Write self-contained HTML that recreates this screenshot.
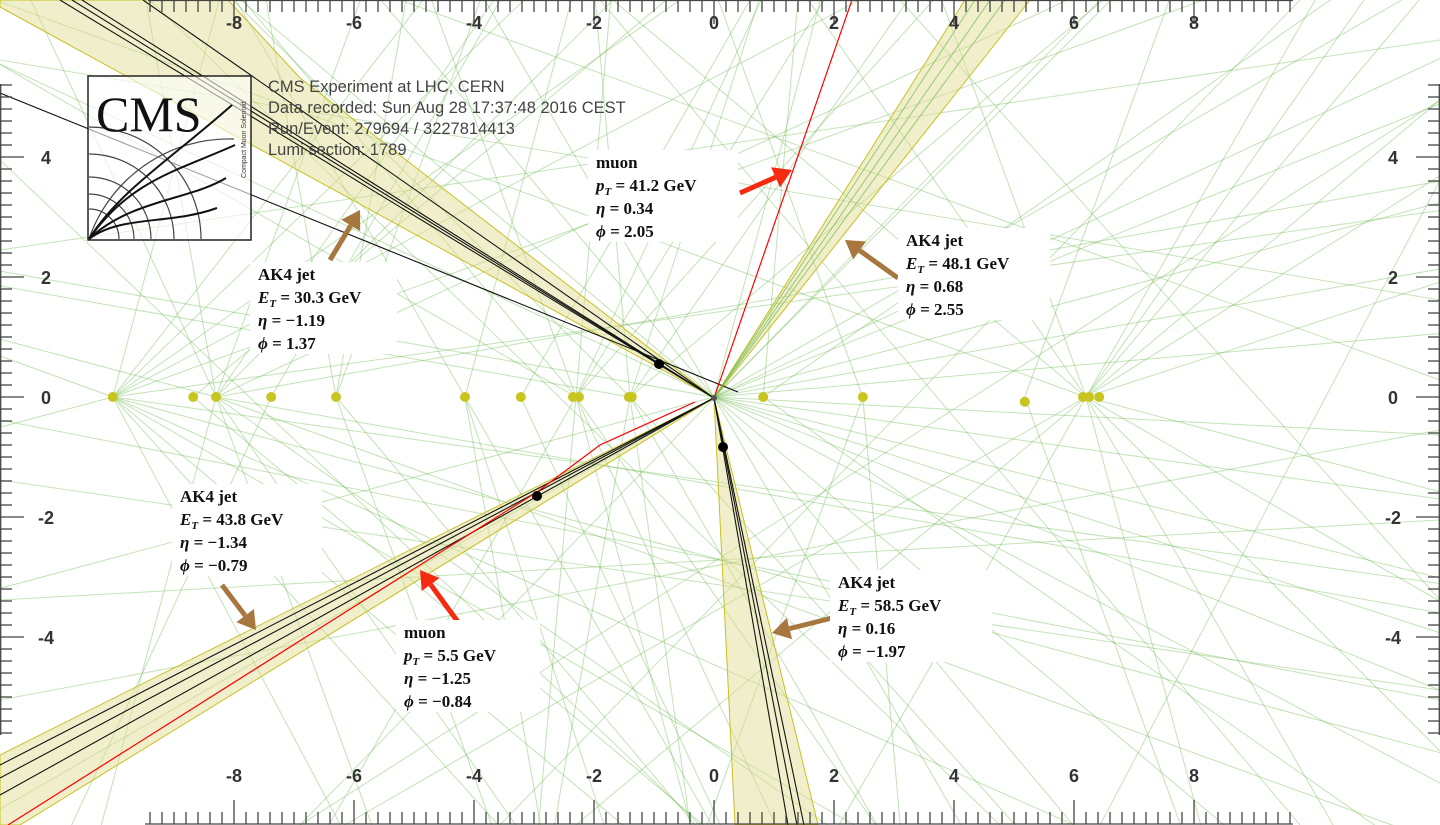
<!DOCTYPE html>
<html><head><meta charset="utf-8"><style>
html,body{margin:0;padding:0;background:#fff;width:1440px;height:825px;overflow:hidden}
svg{display:block;overflow:hidden}
.lbl{font-family:"Liberation Serif",serif;font-weight:bold;font-size:17px;fill:#111}
.tick{font-family:"Liberation Sans",sans-serif;font-weight:bold;font-size:18px;fill:#333}
.info{font-family:"Liberation Sans",sans-serif;font-size:16.5px;fill:#444}
</style></head><body>
<svg id="c" width="1440" height="825" viewBox="0 0 1440 825">
<g id="tracks"></g>
<g id="jets"></g>
<g id="verts"></g>
<g id="axes"></g>
<g id="ann"></g>
</svg>
<script>
const X0=714, Y0=397, S=60;
function sx(v){return X0+v*S;}
function sy(v){return Y0-v*S;}
const NS='http://www.w3.org/2000/svg';
function mk(tag,attrs,parent){const e=document.createElementNS(NS,tag);for(const k in attrs)e.setAttribute(k,attrs[k]);parent.appendChild(e);return e;}

const vertexX=[-10.02,-8.68,-8.3,-7.38,-6.3,-4.15,-3.22,-2.35,-2.25,-1.42,-1.37,0.82,2.48,5.18,6.15,6.25,6.42];
const vertexY=[0,0,0,0,0,0,0,0,0,0,0,0,0,-0.08,0,0,0];
const trackOriginX=[-10.02,-10.02,-10.02,-10.02,-10.02,-10.02,-10.02,-10.02,-10.02,-10.02,-8.3,-8.3,-8.3,-8.3,-8.3,-8.3,-8.3,-8.3,-2.3,-2.3,-2.3,-2.3,-2.3,-2.3,-2.3,-1.4,-1.4,-1.4,-1.4,-1.4,-1.4,0,0,0,0,0,0,0,0,0,0,0,0,0,0,6.2,6.2,6.2,6.2,6.2,6.2,6.2,6.2,6.2,6.2,-6.3,-6.3,-6.3,-4.15,-4.15,-4.15,0.82,0.82,2.48,2.48,-7.38,-7.38,
 -10.02,-10.02,-10.02,-10.02,-10.02,-10.02,-8.3,-8.3,-8.3,-8.3,-8.3,-8.3,-2.3,-2.3,-2.3,-2.3,-2.3,-1.4,-1.4,-1.4,-1.4,0,0,0,0,0,0,0,0,0,0,6.2,6.2,6.2,6.2,6.2,6.2,6.2,6.2,-6.3,-6.3,-4.15,-4.15,-3.22,-3.22,0.82,2.48,5.18,5.18,-8.68,-8.68];
const trackAngle=[20,35,52,75,-15,-30,-48,-62,160,195,10,70,100,115,-20,-70,-105,165,65,85,110,-75,-95,-120,150,40,72,95,-60,-100,170,5,15,-8,-14,-22,30,-40,120,140,155,-150,-165,75,25,40,60,110,125,160,-30,-60,-120,-150,55,-50,100,80,-80,120,-60,35,-35,110,-110,60,-115,
 8,28,44,-8,-24,-40,25,45,55,-10,-35,-55,48,58,-55,-65,130,55,-48,-82,135,10,22,-3,-18,-28,45,-50,-60,130,170,18,32,50,-15,-45,-75,140,-140,70,-70,75,-72,60,-65,85,-85,70,-70,40,-40];
const jetETs=['30.3','48.1','43.8','58.5'];
const jetEta=['−1.19','0.68','−1.34','0.16'];
const jetPhi=['1.37','2.55','−0.79','−1.97'];

const tg=document.getElementById('tracks');
for(let i=0;i<trackOriginX.length;i++){
  const x=sx(trackOriginX[i]),y=sy(0),a=trackAngle[i]*Math.PI/180,L=2200;
  const l=mk('line',{x1:x,y1:y,x2:x+Math.cos(a)*L,y2:y-Math.sin(a)*L,stroke:'rgba(110,185,80,0.42)','stroke-width':1},tg);
  
  
}
const crossA=[[0,60,1440,300],[0,250,1440,40],[300,825,1100,0],[500,825,1300,0],[0,600,1440,520],[0,700,1440,430],[150,0,1000,825],[900,0,1440,600],[1100,825,1440,180],[0,420,1440,700],[600,0,1300,825],[0,160,700,825],[1440,100,300,825],[1440,380,400,0],[1440,690,0,480]];
for(const c of crossA){const l=mk('line',{x1:c[0],y1:c[1],x2:c[2],y2:c[3],stroke:'rgba(110,185,80,0.4)','stroke-width':1},tg);
  
  }

const jg=document.getElementById('jets');
const jetPolys=[
 [[714,398],[0,7],[0,0],[228,0],[300,78]],
 [[714,398],[965,0],[1030,0]],
 [[714,398],[0,755],[0,825],[20,825]],
 [[714,398],[735,825],[818,825]]
];
jetPolys.forEach((p,i)=>{const e=mk('polygon',{points:p.map(q=>q.join(',')).join(' '),fill:'rgba(225,220,140,0.45)',stroke:'#c8c020','stroke-width':1},jg);
  
  });
const blk=[[714,398,60,0],[714,398,72,0],[714,398,82,0],[714,398,143,0],[0,93,738,392],
 [714,398,0,765],[714,398,0,778],[714,398,0,795],
 [714,398,788,825],[714,398,797,825],[714,398,804,825]];
blk.forEach(b=>{const e=mk('line',{x1:b[0],y1:b[1],x2:b[2],y2:b[3],stroke:'#111','stroke-width':1.1},jg);
  
  });
[[714,398,975,0],[714,398,990,0],[714,398,1005,0]].forEach(b=>{const e=mk('line',{x1:b[0],y1:b[1],x2:b[2],y2:b[3],stroke:'rgba(110,185,80,0.7)','stroke-width':1},jg);
  
  });
let m=mk('line',{x1:714,y1:398,x2:852,y2:0,stroke:'#f00','stroke-width':1.2},jg);


m=mk('polyline',{points:'695,402 600,445 537,492 420,565 8,825',fill:'none',stroke:'#f00','stroke-width':1.2},jg);



const vg=document.getElementById('verts');
for(let i=0;i<vertexX.length;i++){const c=mk('circle',{cx:sx(vertexX[i]),cy:sy(vertexY[i]),r:5,fill:'#c9c520'},vg);
  
  }
mk('circle',{cx:714,cy:398,r:3,fill:'#555'},vg);
[[659,364],[537,496],[723,447]].forEach(d=>{const c=mk('circle',{cx:d[0],cy:d[1],r:5,fill:'#000'},vg);
  
  });

const ag=document.getElementById('axes');
const tickLabels=[-8,-6,-4,-2,0,2,4,6,8];
const yTickLabels=[4,2,0,-2,-4];
function tline(x1,y1,x2,y2){mk('line',{x1,y1,x2,y2,stroke:'#444','stroke-width':1.3},ag);}
tline(148,0.5,1293,0.5);tline(145,824,1293,824);tline(0.7,84,0.7,735);tline(1439.3,84,1439.3,735);
for(let k=-47;k<=48;k++){const v=k*0.2,x=sx(v);if(x<148||x>1293)continue;const maj=Math.abs(v-Math.round(v))<1e-6&&Math.round(v)%2===0;
  tline(x,0,x,maj?24:12);tline(x,824,x,maj?800:812);}
for(let k=-28;k<=26;k++){const v=k*0.2,y=sy(v);if(y<84||y>735)continue;const maj=Math.abs(v-Math.round(v))<1e-6&&Math.round(v)%2===0;
  tline(0,y,maj?24:12,y);tline(1440,y,maj?1416:1428,y);}
tickLabels.forEach(v=>{
  let t=mk('text',{x:sx(v),y:29,'text-anchor':'middle',class:'tick'},ag);t.textContent=v;
  
  t=mk('text',{x:sx(v),y:782,'text-anchor':'middle',class:'tick'},ag);t.textContent=v;
  });
yTickLabels.forEach(v=>{
  let t=mk('text',{x:46,y:sy(v)+7,'text-anchor':'middle',class:'tick'},ag);t.textContent=v;
  
  t=mk('text',{x:1393,y:sy(v)+7,'text-anchor':'middle',class:'tick'},ag);t.textContent=v;
  });

const an=document.getElementById('ann');
function arrow(x1,y1,x2,y2,col){const a=Math.atan2(y2-y1,x2-x1),h=18,w=11;
  const bx=x2-Math.cos(a)*h,by=y2-Math.sin(a)*h;
  mk('line',{x1,y1,x2:bx,y2:by,stroke:col,'stroke-width':5},an);
  const p=mk('polygon',{points:`${x2},${y2} ${bx+Math.sin(a)*w},${by-Math.cos(a)*w} ${bx-Math.sin(a)*w},${by+Math.cos(a)*w}`,fill:col},an);
  }
const brown='#a8773f';
arrow(330,260,360,210,brown);arrow(898,278,845,240,brown);arrow(222,585,256,630,brown);arrow(836,617,772,633,brown);
arrow(740,193,792,170,'#f52a10');arrow(458,622,420,570,'#f52a10');
function box(x,y,w,h,lines,name){const g=mk('g',{},an);
  mk('rect',{x,y,width:w,height:h,fill:'#fff'},g);
  lines.forEach((s,i)=>{const t=mk('text',{x:x+8,y:y+18+i*23,class:'lbl'},g);t.innerHTML=s;});}
function jl(i){return ['AK4 jet',`<tspan font-style="italic">E</tspan><tspan font-style="italic" font-size="11" dy="4">T</tspan><tspan dy="-4"> = ${jetETs[i]} GeV</tspan>`,`<tspan font-style="italic">η</tspan> = ${jetEta[i]}`,`<tspan font-style="italic">ϕ</tspan> = ${jetPhi[i]}`];}
box(250,262,147,92,jl(0),'jet-label-1');
box(898,228,152,92,jl(1),'jet-label-2');
box(172,484,150,92,jl(2),'jet-label-3');
box(830,570,162,92,jl(3),'jet-label-4');
box(588,150,150,92,['muon','<tspan font-style="italic">p</tspan><tspan font-style="italic" font-size="11" dy="4">T</tspan><tspan dy="-4"> = 41.2 GeV</tspan>','<tspan font-style="italic">η</tspan> = 0.34','<tspan font-style="italic">ϕ</tspan> = 2.05'],'muon-label-1');
box(396,620,144,92,['muon','<tspan font-style="italic">p</tspan><tspan font-style="italic" font-size="11" dy="4">T</tspan><tspan dy="-4"> = 5.5 GeV</tspan>','<tspan font-style="italic">η</tspan> = −1.25','<tspan font-style="italic">ϕ</tspan> = −0.84'],'muon-label-2');

['CMS Experiment at LHC, CERN','Data recorded: Sun Aug 28 17:37:48 2016 CEST','Run/Event: 279694 / 3227814413','Lumi section: 1789'].forEach((s,i)=>{
  const t=mk('text',{x:268,y:92+i*21,class:'info'},an);t.textContent=s;
  });

const lg=mk('g',{},an);
mk('rect',{x:88,y:76,width:163,height:164,fill:'rgba(255,255,255,0.6)',stroke:'#222','stroke-width':1.5},lg);
[30,45,62,85,112].forEach(r=>mk('path',{d:`M${89+r},239 A${r},${r} 0 0 0 89,${239-r}`,fill:'none',stroke:'#444','stroke-width':1.2},lg));
mk('path',{d:'M89,239 A148,148 0 0 1 234,139',fill:'none',stroke:'#444','stroke-width':1.2},lg);
['M89,239 C120,190 170,160 232,105','M89,239 C130,180 180,170 235,145','M89,239 C130,200 190,200 226,178','M89,239 C120,215 170,225 217,208'].forEach(d=>mk('path',{d,fill:'none',stroke:'#111','stroke-width':2},lg));
let ct=mk('text',{x:96,y:131,'font-family':'Liberation Serif, serif','font-size':50,fill:'#111'},lg);ct.textContent='CMS';
ct=mk('text',{x:0,y:0,'font-family':'Liberation Sans, sans-serif','font-size':7,fill:'#333',transform:'translate(246,178) rotate(-90)'},lg);ct.textContent='Compact Muon Solenoid';
</script>
</body></html>
